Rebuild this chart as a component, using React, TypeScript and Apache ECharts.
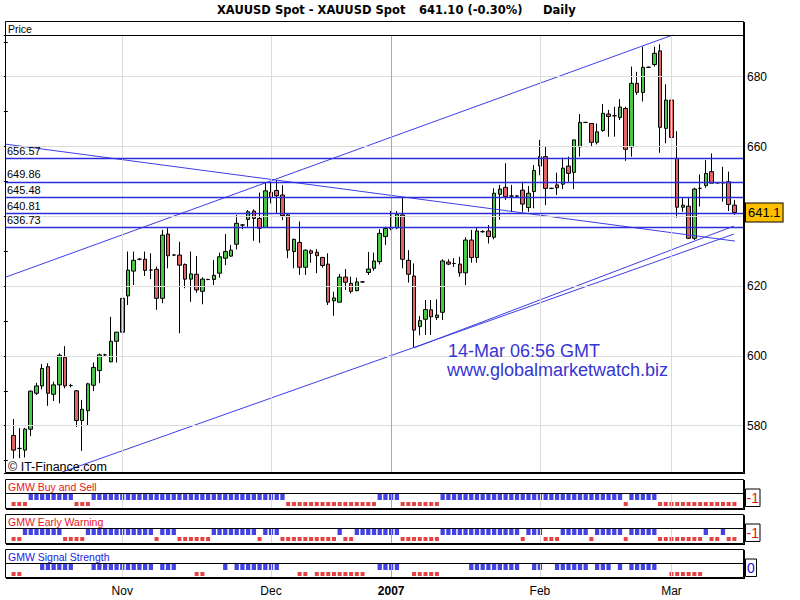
import React, { useEffect, useRef } from "react";
import * as echarts from "echarts";

// ---------- data ----------
const SLOT_COUNT = 129; // category slots on the time axis (bar positions)
const slots = Array.from({ length: SLOT_COUNT }, (_, i) => String(i));
const FIRST_SLOT = 1;

const opens = [
  577.2, 573.5, 573.0, 579.0, 589.3, 591.4, 596.9, 589.0, 591.7, 599.6,
  591.5, 590.0, 581.5, 584.3, 591.6, 595.8, 600.3, 598.3, 604.2, 606.8,
  617.2, 624.3, 627.7, 627.7, 624.6, 624.8, 616.5, 634.9, 628.9, 628.9,
  626.2, 622.0, 623.4, 618.5, 621.9, 621.9, 623.7, 628.0, 628.6, 632.0,
  637.5, 639.1, 641.5, 639.4, 636.8, 646.9, 647.4, 646.1, 640.4, 629.9,
  632.5, 625.4, 630.1, 629.7, 628.2, 626.3, 615.8, 615.4, 622.6, 620.8,
  618.7, 621.2, 623.9, 625.1, 627.0, 634.2, 636.5, 636.7, 640.4, 627.4,
  622.9, 608.4, 610.5, 613.2, 611.0, 612.5, 626.9, 626.5, 626.3, 623.8,
  633.2, 628.2, 635.6, 635.8, 634.0, 646.3, 648.3, 645.8, 645.8, 647.5,
  642.5, 647.1, 654.4, 657.1, 648.0, 649.0, 649.2, 654.4, 652.6, 659.9,
  666.9, 666.6, 661.2, 664.6, 669.3, 668.8, 668.3, 670.9, 659.9, 678.1,
  675.5, 682.7, 683.5, 687.4, 665.2, 673.3, 656.6, 642.6, 642.9, 633.7,
  648.0, 648.8, 652.8, 649.6, 649.6, 649.9, 643.2,
];
const closes = [
  573.0, 573.5, 579.0, 589.9, 591.4, 596.4, 589.3, 591.7, 600.2, 591.4,
  591.5, 581.5, 584.7, 592.0, 596.7, 600.3, 600.3, 604.2, 606.8, 616.5,
  624.6, 627.4, 627.7, 624.5, 624.6, 616.5, 634.6, 628.7, 628.9, 626.0,
  622.0, 623.5, 618.9, 622.0, 621.9, 623.1, 628.4, 629.9, 630.3, 638.0,
  637.5, 641.3, 639.4, 636.6, 647.3, 645.4, 645.9, 640.2, 630.3, 633.4,
  625.4, 630.3, 629.4, 628.7, 625.9, 615.4, 616.6, 622.6, 621.1, 618.5,
  621.2, 621.2, 624.9, 627.2, 635.1, 636.5, 636.5, 640.6, 627.7, 623.4,
  607.4, 610.1, 613.3, 611.2, 611.7, 627.2, 626.3, 626.5, 623.8, 633.2,
  628.2, 635.8, 635.6, 634.2, 646.6, 647.8, 645.6, 645.8, 645.8, 643.5,
  646.6, 653.1, 657.1, 648.0, 648.0, 648.2, 653.8, 652.3, 661.9, 666.9,
  666.9, 661.2, 664.2, 669.5, 668.6, 668.8, 671.3, 659.2, 678.1, 675.5,
  682.7, 682.7, 686.7, 665.5, 673.3, 662.6, 642.6, 643.2, 633.7, 647.8,
  648.0, 652.3, 649.5, 649.6, 649.6, 643.4, 641.1,
];
const lows = [
  570.6, 570.7, 570.9, 577.0, 588.8, 590.4, 585.7, 587.1, 586.4, 590.7,
  591.0, 579.7, 572.8, 580.2, 589.9, 592.2, 600.0, 598.2, 598.1, 606.5,
  614.6, 620.3, 627.4, 622.9, 622.0, 613.2, 615.1, 625.1, 628.7, 606.5,
  619.4, 615.5, 618.1, 614.8, 621.7, 620.3, 622.4, 626.0, 628.4, 630.5,
  636.3, 637.0, 633.0, 632.4, 636.8, 643.7, 640.9, 638.9, 628.0, 625.1,
  623.2, 623.2, 626.7, 623.7, 625.3, 614.6, 611.5, 615.4, 618.9, 617.9,
  618.5, 621.0, 623.2, 624.4, 626.2, 631.8, 636.0, 636.3, 625.1, 621.0,
  602.4, 605.9, 606.0, 606.0, 610.3, 610.3, 626.0, 625.5, 622.7, 620.3,
  626.7, 626.7, 635.3, 632.2, 633.4, 639.0, 644.7, 641.3, 645.5, 641.3,
  641.3, 642.3, 651.8, 643.2, 647.8, 646.1, 647.8, 649.9, 647.8, 657.1,
  666.7, 660.0, 660.6, 664.2, 662.8, 662.8, 667.6, 655.9, 657.1, 674.8,
  672.9, 682.5, 682.9, 658.2, 660.9, 661.6, 639.6, 641.3, 633.5, 633.2,
  642.8, 648.2, 649.5, 649.4, 644.2, 641.5, 640.4,
];
const highs = [
  581.9, 579.3, 579.4, 590.1, 592.3, 597.7, 597.9, 592.6, 600.7, 602.8,
  592.0, 590.2, 587.4, 592.3, 598.1, 600.7, 600.6, 611.2, 606.9, 619.7,
  629.9, 629.9, 628.0, 629.9, 629.4, 625.6, 636.1, 636.6, 629.1, 632.7,
  626.5, 629.9, 628.6, 622.5, 622.1, 627.5, 629.6, 634.9, 631.8, 640.4,
  637.8, 641.8, 642.0, 646.8, 649.8, 649.8, 650.4, 648.9, 640.7, 633.6,
  638.5, 630.5, 630.5, 630.6, 628.4, 629.4, 618.4, 623.5, 624.9, 622.7,
  622.4, 621.4, 629.8, 629.6, 636.3, 637.0, 641.5, 641.5, 645.6, 630.3,
  626.5, 611.4, 616.0, 616.0, 616.2, 627.7, 627.7, 628.0, 628.4, 634.0,
  636.1, 636.8, 636.0, 637.5, 648.0, 649.0, 655.2, 649.0, 646.1, 649.9,
  648.7, 654.7, 661.9, 659.9, 648.2, 652.5, 656.8, 657.1, 661.9, 669.3,
  667.1, 666.6, 666.6, 672.2, 670.5, 671.4, 673.6, 671.4, 682.9, 681.4,
  688.6, 682.9, 688.6, 689.3, 677.8, 677.8, 664.4, 645.2, 645.2, 648.2,
  652.0, 656.1, 658.0, 649.8, 654.2, 652.8, 644.7,
];

// indicator signals per bar: 1 = buy (blue), -1 = sell (red), 0 = none
const buySell = [
  -1, -1, -1, 1, 1, 1, 1, 1, 1, 1,
  1, -1, -1, -1, 1, 1, 1, 1, 1, 1,
  1, 1, 1, 1, 1, 1, 1, 1, 1, 1,
  1, 1, 1, 1, 1, 1, 1, 1, 1, 1,
  1, 1, 1, 1, 1, 1, 1, 1, -1, -1,
  -1, -1, -1, -1, -1, -1, -1, -1, -1, -1,
  -1, -1, -1, -1, 1, 1, 1, 1, -1, -1,
  -1, -1, -1, -1, -1, 1, 1, 1, 1, 1,
  1, 1, 1, 1, 1, 1, 1, 1, 1, 1,
  1, 1, 1, 1, 1, 1, 1, 1, 1, 1,
  1, 1, 1, 1, 1, 1, 1, -1, 1, 1,
  1, 1, 1, -1, -1, -1, -1, -1, -1, -1,
  -1, -1, -1, -1, -1, -1, -1,
];
const earlyWarning = [
  -1, -1, 1, 1, 1, 1, 1, 1, 1, -1,
  -1, -1, -1, 1, 1, 1, 1, 1, 1, 1,
  1, 1, 1, 1, 1, -1, 1, 1, 1, -1,
  -1, -1, -1, -1, -1, 1, 1, 1, 1, 1,
  1, 1, 1, -1, 1, 1, 1, -1, -1, -1,
  -1, -1, -1, -1, -1, -1, -1, 1, -1, -1,
  1, 1, 1, 1, 1, 1, 1, 1, -1, -1,
  -1, -1, -1, -1, -1, 1, 1, 1, 1, 1,
  1, 1, 1, 1, 1, 1, 1, 1, 1, -1,
  1, 1, 1, -1, -1, -1, 1, 1, 1, 1,
  1, -1, 1, 1, 1, 1, 1, -1, 1, 1,
  1, 1, 1, -1, -1, -1, -1, -1, -1, -1,
  -1, 1, -1, -1, 1, -1, -1,
];
const signalStrength = [
  -1, -1, 0, 0, 0, 1, 1, 1, 1, 1,
  1, 0, 0, 0, 1, 1, 1, 1, 1, 1,
  1, 1, 1, 1, 1, 0, 1, 1, 1, 0,
  0, 0, -1, -1, 0, 0, 0, 1, 0, 1,
  1, 1, 1, 1, 1, 1, 1, 0, 0, 0,
  -1, -1, 0, -1, -1, -1, -1, -1, -1, -1,
  -1, -1, 0, 0, 1, 1, 1, 1, 0, 0,
  -1, -1, -1, -1, -1, 0, 0, 0, 0, 0,
  1, 1, 1, 1, 1, 1, 1, 1, 1, 0,
  0, 1, 1, 0, 0, 1, 1, 1, 1, 1,
  1, 0, 1, 1, 1, 0, 1, 0, 1, 1,
  1, 1, 1, 0, 0, -1, -1, -1, -1, -1,
  -1, 0, 0, 0, 0, 0, 0,
];

const levelPrices = [656.57, 649.86, 645.48, 640.81, 636.73];
const gridPrices = [580, 600, 620, 640, 660, 680];
const monthSlots = [20, 46, 67, 93, 116];
const monthLabels = ["Nov", "Dec", "2007", "Feb", "Mar"];
const yearSlot = 67;
// hand-drawn trend lines: [slot, price] end points
const trendLines = [
  [[-0.5, 622.5], [116.3, 692.0]],
  [[-0.5, 660.7], [127.1, 632.9]],
  [[9.46, 566.7], [126.9, 634.9]],
  [[71.0, 602.3], [126.9, 637.2]],
];
const lastPrice = 641.1;
const PRICE_MIN = 566.45;
const PRICE_MAX = 691.95;

// ---------- layout / style ----------
const FONT = '"Liberation Sans", Arial, sans-serif';
const GRID_L = 5;
const GRID_R = 57;
const MAIN_TOP = 35;
const MAIN_BOTTOM = 473;
const LEVEL_BLUE = "#2c2cda";
const TREND_BLUE = "#3d3de8";
const SIG_BLUE = "#1414dc";
const SIG_RED = "#dc1414";

const panels = [
  { title: "GMW Buy and Sell", titleColor: "#e8141e", values: buySell, y1: 479, divider: 493, y2: 508 },
  { title: "GMW Early Warning", titleColor: "#e8141e", values: earlyWarning, y1: 514, divider: 528, y2: 543 },
  { title: "GMW Signal Strength", titleColor: "#1a1ae6", values: signalStrength, y1: 549, divider: 563, y2: 577 },
];

function textEl(text: string, x: number, y: number, font: string, fill: string, align = "left") {
  return {
    type: "text",
    x,
    y,
    silent: true,
    z: 60,
    style: { text, font, fill, align, verticalAlign: "middle", textAlign: align, textVerticalAlign: "middle" },
  };
}

function frameEls(y1: number, y2: number, divider: number) {
  const s = { stroke: "#000", lineWidth: 1 };
  return [
    { type: "rect", silent: true, z: 50, shape: { x: GRID_L + 0.5, y: y1 + 0.5, width: 738, height: y2 - y1 }, style: { fill: "none", ...s } },
    { type: "line", silent: true, z: 50, shape: { x1: GRID_L + 1, y1: y2 + 1.5, x2: 745, y2: y2 + 1.5 }, style: s },
    { type: "line", silent: true, z: 50, shape: { x1: 744.5, y1: y1 + 1, x2: 744.5, y2: y2 + 2 }, style: s },
    { type: "line", silent: true, z: 50, shape: { x1: GRID_L, y1: divider + 0.5, x2: 744, y2: divider + 0.5 }, style: s },
  ];
}

function buildOption() {
  const candleRows = opens.map((o, k) => [k + FIRST_SLOT, o, closes[k], lows[k], highs[k]]);

  const grids: any[] = [
    { left: GRID_L, right: GRID_R, top: MAIN_TOP, height: MAIN_BOTTOM - MAIN_TOP },
  ];
  const xAxes: any[] = [
    { type: "category", gridIndex: 0, data: slots, boundaryGap: true, show: false },
    { type: "value", gridIndex: 0, min: -0.5, max: SLOT_COUNT - 0.5, show: false },
  ];
  const yAxes: any[] = [
    {
      type: "value",
      gridIndex: 0,
      position: "right",
      min: PRICE_MIN,
      max: PRICE_MAX,
      splitNumber: 12,
      axisLine: { show: false },
      axisTick: { show: true, inside: true, length: 4, lineStyle: { color: "#000" } },
      axisLabel: {
        color: "#000",
        fontFamily: FONT,
        fontSize: 12,
        margin: 4,
        // labels every 20; the one hidden under the last-price box is left out
        formatter: (v: number) =>
          Math.abs(v % 20) < 1e-6 && Math.abs(v - lastPrice) > 5 ? String(v) : "",
      },
      splitLine: { show: false },
    },
  ];

  const series: any[] = [
    {
      type: "line",
      xAxisIndex: 1,
      yAxisIndex: 0,
      data: [],
      silent: true,
      z: 1,
      markLine: {
        silent: true,
        symbol: ["none", "none"],
        label: { show: false },
        lineStyle: { color: "#dcdcdc", width: 1, type: "solid" },
        data: [
          ...gridPrices.map((p) => ({ yAxis: p })),
          ...monthSlots.map((s) => ({
            xAxis: s,
            lineStyle: { color: s === yearSlot ? "#a9a9a9" : "#dcdcdc", width: 1, type: "solid" },
          })),
        ],
      },
    },
    {
      type: "candlestick",
      xAxisIndex: 0,
      yAxisIndex: 0,
      data: candleRows,
      encode: { x: 0, y: [1, 2, 3, 4] },
      barWidth: 4,
      z: 3,
      itemStyle: {
        color: "#46c846",
        color0: "#e06464",
        borderColor: "#000",
        borderColor0: "#000",
        borderColorDoji: "#000",
        borderWidth: 1,
      },
    },
    ...trendLines.map((seg) => ({
      type: "line",
      xAxisIndex: 1,
      yAxisIndex: 0,
      data: seg,
      symbol: "none",
      silent: true,
      z: 4,
      lineStyle: { color: TREND_BLUE, width: 1 },
    })),
    {
      type: "line",
      xAxisIndex: 1,
      yAxisIndex: 0,
      data: [],
      silent: true,
      z: 5,
      markLine: {
        silent: true,
        symbol: ["none", "none"],
        lineStyle: { color: LEVEL_BLUE, width: 1.3, type: "solid" },
        label: {
          show: true,
          position: "insideStartTop",
          distance: 2,
          color: "#000",
          fontFamily: FONT,
          fontSize: 11,
          formatter: (p: any) => Number(p.value).toFixed(2),
        },
        data: [
          ...levelPrices.map((p) => ({ yAxis: p })),
          {
            yAxis: lastPrice,
            lineStyle: { color: "rgba(0,0,0,0)", width: 0 },
            label: {
              position: "end",
              distance: 3,
              color: "#000",
              fontFamily: FONT,
              fontSize: 13,
              lineHeight: 14,
              backgroundColor: "#ffc000",
              borderColor: "#000",
              borderWidth: 1,
              padding: [2, 2, 2, 2],
              formatter: () => lastPrice.toFixed(1),
            },
          },
        ],
      },
    },
  ];

  panels.forEach((pn, k) => {
    const gi = k + 1;
    const top = pn.divider + 0.3;
    const height = pn.y2 - pn.divider + 0.5;
    const maxV = 1 + 3.7 / 3.5;
    const minV = maxV - height / 3.5;
    grids.push({ left: GRID_L, right: GRID_R, top, height });
    const isLast = k === panels.length - 1;
    xAxes.push(
      isLast
        ? {
            type: "category",
            gridIndex: gi,
            data: slots,
            boundaryGap: true,
            axisLine: { show: false },
            splitLine: { show: false },
            axisTick: {
              show: true,
              alignWithLabel: true,
              length: 5,
              interval: (idx: number) => monthSlots.includes(idx),
              lineStyle: { color: "#000" },
            },
            axisLabel: {
              show: true,
              interval: (idx: number) => monthSlots.includes(idx),
              margin: 7,
              color: "#000",
              fontFamily: FONT,
              fontSize: 12,
              formatter: (_v: string, idx: number) => {
                const m = monthSlots.indexOf(idx);
                if (m < 0) return "";
                return monthSlots[m] === yearSlot ? `{b|${monthLabels[m]}}` : monthLabels[m];
              },
              rich: { b: { fontWeight: "bold", fontFamily: FONT, fontSize: 12, color: "#000" } },
            },
          }
        : { type: "category", gridIndex: gi, data: slots, boundaryGap: true, show: false }
    );
    yAxes.push({ type: "value", gridIndex: gi, min: minV, max: maxV, show: false });
    const xi = k + 2;
    const yi = k + 1;
    series.push({
      type: "scatter",
      xAxisIndex: xi,
      yAxisIndex: yi,
      symbol: "rect",
      symbolSize: [4.3, 6],
      silent: true,
      z: 3,
      itemStyle: { color: SIG_BLUE },
      data: pn.values.map((v, j) => (v === 1 ? [j + FIRST_SLOT, 1] : null)).filter(Boolean),
      markLine: {
        silent: true,
        symbol: ["none", "none"],
        label: { show: false },
        data: monthSlots.map((s) => ({
          xAxis: s,
          lineStyle: { color: s === yearSlot ? "#a9a9a9" : "#dcdcdc", width: 1, type: "solid" },
        })),
      },
    });
    series.push({
      type: "scatter",
      xAxisIndex: xi,
      yAxisIndex: yi,
      symbol: "rect",
      symbolSize: [4, 4],
      silent: true,
      z: 3,
      itemStyle: { color: SIG_RED },
      data: pn.values.map((v, j) => (v === -1 ? [j + FIRST_SLOT, -1] : null)).filter(Boolean),
    });
  });

  const graphics: any[] = [
    textEl("XAUUSD Spot - XAUUSD Spot", 217, 9.5, 'bold 11.5px "DejaVu Sans", Verdana, sans-serif', "#000"),
    textEl(`${closes[closes.length - 1].toFixed(2)} (-0.30%)`, 419, 9.5, 'bold 11.5px "DejaVu Sans", Verdana, sans-serif', "#000"),
    textEl("Daily", 543, 9.5, 'bold 11.5px "DejaVu Sans", Verdana, sans-serif', "#000"),
    textEl("Price", 8, 28.5, `10.5px ${FONT}`, "#000"),
    textEl("\u00A9 IT-Finance.com", 8, 467, `12.5px ${FONT}`, "#000"),
    textEl("14-Mar 06:56 GMT", 448, 351, `18px ${FONT}`, "#3535d5"),
    textEl("www.globalmarketwatch.biz", 447, 370, `18px ${FONT}`, "#3535d5"),
    ...frameEls(21, 472, 35),
  ];
  panels.forEach((pn) => {
    graphics.push(...frameEls(pn.y1, pn.y2, pn.divider));
    graphics.push(textEl(pn.title, 8, (pn.y1 + pn.divider) / 2 + 0.8, `10.5px ${FONT}`, pn.titleColor));
    const last = pn.values[pn.values.length - 1];
    const label = String(last);
    const boxW = label.length > 1 ? 14.5 : 11;
    const color = last === 0 ? SIG_BLUE : SIG_RED;
    graphics.push({
      type: "rect",
      silent: true,
      z: 50,
      shape: { x: 745.5, y: pn.divider - 4, width: boxW, height: 17.5 },
      style: { fill: "#fff", stroke: "#000", lineWidth: 1 },
    });
    graphics.push(textEl(label, 745.5 + boxW / 2, pn.divider + 5, `14px ${FONT}`, color, "center"));
  });

  return {
    animation: false,
    backgroundColor: "#fff",
    grid: grids,
    xAxis: xAxes,
    yAxis: yAxes,
    series,
    graphic: { elements: graphics },
  };
}

export default function App() {
  const ref = useRef<HTMLDivElement>(null);
  useEffect(() => {
    if (!ref.current) return;
    const chart = echarts.init(ref.current, undefined, { renderer: "svg" });
    chart.setOption(buildOption() as any);
    return () => chart.dispose();
  }, []);
  return (
    <div
      ref={ref}
      style={{ position: "fixed", left: 0, top: 0, width: 800, height: 600, background: "#fff" }}
    />
  );
}
